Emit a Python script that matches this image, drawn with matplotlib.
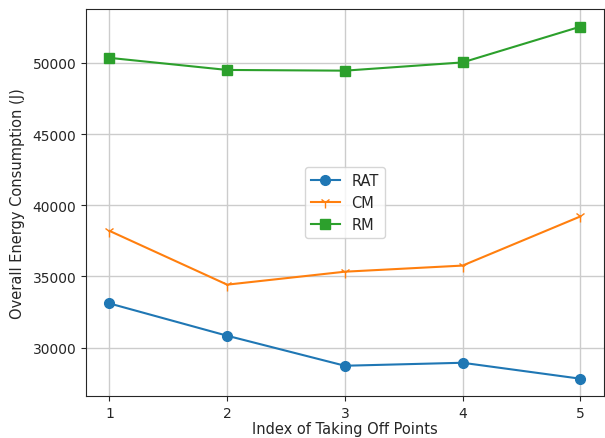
import matplotlib
matplotlib.use("Agg")
import matplotlib.pyplot as plt

points = [1, 2, 3, 4, 5]
rat = [33100, 30830, 28720, 28930, 27810]
cm = [38200, 34420, 35330, 35760, 39210]
rm = [50360, 49510, 49460, 50040, 52550]

dark = '#262626'
plt.rcParams.update({
    'text.color': dark,
    'axes.labelcolor': dark,
    'xtick.color': dark,
    'ytick.color': dark,
    'axes.edgecolor': dark,
})

fig, ax = plt.subplots(figsize=(6.05, 4.39), dpi=100)
fig.subplots_adjust(left=0.142, right=0.998, top=0.977, bottom=0.095)

ax.plot(points, rat, marker='o', markersize=7, color='#1f77b4', label='RAT')
ax.plot(points, cm, marker='1', markersize=8, color='#ff7f0e', label='CM')
ax.plot(points, rm, marker='s', markersize=7, color='#2ca02c', label='RM')

ax.set_xticks(points)
ax.grid(True, color='#cccccc', linewidth=1)
ax.set_axisbelow(True)
ax.set_xlabel('Index of Taking Off Points', fontsize=10.5, labelpad=1)
ax.set_ylabel('Overall Energy Consumption (J)', fontsize=10.5, labelpad=5)
ax.legend(loc='center', fontsize=10.5)

fig.savefig('out.png', dpi=100)
